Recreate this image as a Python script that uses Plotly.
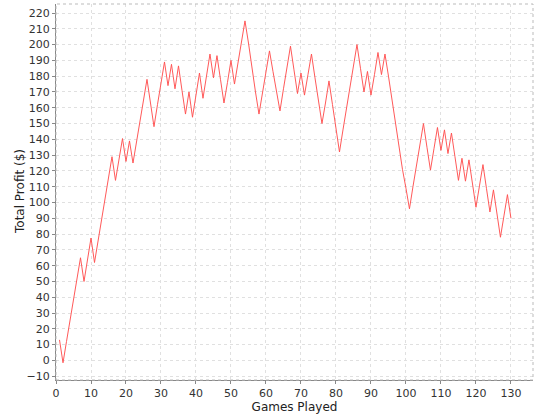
import plotly.graph_objects as go

games = list(range(1, 131))
profit = [
    13, -1.5, 12, 25, 38, 52, 65, 50, 64, 77.5,
    62, 75, 89, 102, 116, 129, 114, 127, 140.5, 126,
    139, 125, 138, 151, 165, 178, 163, 148, 162, 175,
    189, 174, 187.5, 172, 186.5, 171, 156, 170, 154, 168,
    182, 166, 180, 194, 179, 193, 178, 163, 176, 190,
    175, 189, 202, 215, 201, 184, 170, 156, 169, 183,
    196, 183, 171, 158, 172, 185, 199, 184, 169, 182,
    168, 181, 194, 179, 165, 150, 163, 177, 162, 147,
    132, 146, 159, 173, 186, 200, 185, 170, 183, 168,
    181, 195, 181, 194, 180, 165, 150, 135, 121, 109,
    96, 110, 123, 137, 150, 135, 120.5, 134, 147.5, 133,
    146, 131, 144, 129, 114, 128, 113.5, 127, 112, 97,
    110.5, 124, 109, 94, 108, 93, 78, 91.5, 105, 90,
]
x_ticks = list(range(0, 131, 10))
y_ticks = list(range(-10, 221, 10))

font = "DejaVu Sans, Lucida Sans, sans-serif"

fig = go.Figure()
fig.add_trace(go.Scatter(
    x=games, y=profit, mode="lines",
    line=dict(color="rgba(255,80,80,0.95)", width=1),
    hoverinfo="x+y", showlegend=False,
))

fig.add_hline(y=0, line=dict(color="rgba(90,90,255,0.9)", width=1, dash="dot"))

axis_common = dict(
    showgrid=True, gridcolor="#e0e0e0", griddash="3px,3px", gridwidth=1,
    zeroline=False, showline=True, linecolor="#888888", linewidth=1,
    ticks="outside", ticklen=3, tickcolor="#888888",
    tickfont=dict(family=font, size=11, color="#333333"),
    mirror=False,
)

fig.update_layout(
    width=540, height=420,
    margin=dict(l=56, r=7, t=4, b=40),
    paper_bgcolor="white", plot_bgcolor="white",
    xaxis=dict(
        range=[0, 136.3], tickvals=x_ticks,
        title=dict(text="Games Played", font=dict(family=font, size=12, color="#222222"), standoff=2),
        **axis_common,
    ),
    yaxis=dict(
        range=[-12.4, 225.7], tickvals=y_ticks,
        **axis_common,
    ),
    annotations=[
        dict(text="Total Profit ($)", xref="paper", yref="paper", x=0, y=0.5,
             xanchor="center", yanchor="middle", xshift=-36, textangle=-90,
             showarrow=False, font=dict(family=font, size=12, color="#222222")),
    ],
    shapes=[
        dict(type="rect", xref="paper", yref="paper", x0=0, y0=0, x1=1, y1=1,
             line=dict(color="#bbbbbb", width=1), fillcolor="rgba(0,0,0,0)", layer="above"),
    ],
)

fig.write_html("out.html", config={"displayModeBar": False},
               post_script="document.body.style.margin='0';")
